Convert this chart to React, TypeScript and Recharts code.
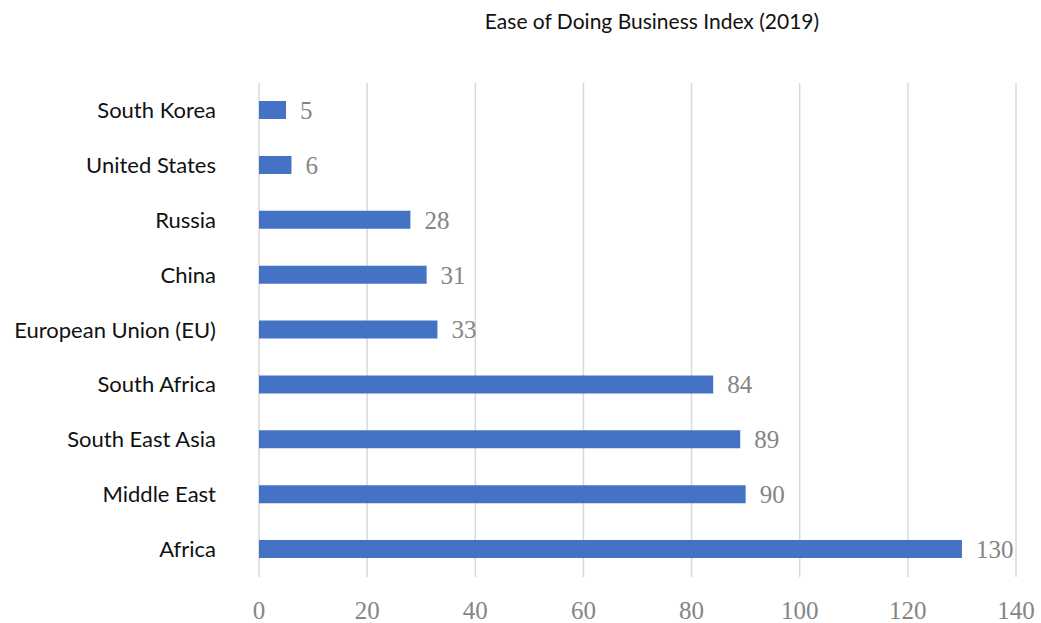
import { BarChart, Bar, XAxis, YAxis, CartesianGrid, LabelList } from 'recharts';

const regions = [
  'South Korea',
  'United States',
  'Russia',
  'China',
  'European Union (EU)',
  'South Africa',
  'South East Asia',
  'Middle East',
  'Africa',
];
const ranks = [5, 6, 28, 31, 33, 84, 89, 90, 130];
const xTicks = [0, 20, 40, 60, 80, 100, 120, 140];

const data = regions.map((region, i) => ({ region, rank: ranks[i] }));

const CategoryTick = (props: any) => {
  const { y, payload } = props;
  return (
    <text
      x={216}
      y={y - 1}
      textAnchor="end"
      dominantBaseline="central"
      fontFamily="Lato, sans-serif"
      fontSize={22}
      fill="#111"
    >
      {payload.value}
    </text>
  );
};

const ValueTick = (props: any) => {
  const { x, y, payload } = props;
  return (
    <text
      x={x}
      y={y + 25}
      textAnchor="middle"
      dominantBaseline="central"
      fontFamily="'Liberation Serif', serif"
      fontSize={25}
      fill="#858585"
    >
      {payload.value}
    </text>
  );
};

export default function App() {
  return (
    <div style={{ position: 'absolute', left: 0, top: 0, width: 1041, height: 623, background: '#fff' }}>
      <div
        style={{
          position: 'absolute',
          left: 0,
          top: 8,
          width: 1304,
          textAlign: 'center',
          fontFamily: 'Lato, sans-serif',
          fontSize: 21,
          color: '#111',
        }}
      >
        Ease of Doing Business Index (2019)
      </div>
      <BarChart
        width={1041}
        height={623}
        data={data}
        layout="vertical"
        margin={{ top: 83, right: 25, bottom: 0, left: 0 }}
      >
        <CartesianGrid horizontal={false} stroke="#d9d9d9" strokeWidth={1.5} />
        <XAxis
          type="number"
          domain={[0, 140]}
          ticks={xTicks}
          axisLine={false}
          tickLine={false}
          height={46}
          tick={<ValueTick />}
          interval={0}
        />
        <YAxis
          type="category"
          dataKey="region"
          width={259}
          axisLine={false}
          tickLine={false}
          tick={<CategoryTick />}
          interval={0}
        />
        <Bar dataKey="rank" fill="#4472c4" barSize={18} isAnimationActive={false}>
          <LabelList
            dataKey="rank"
            position="right"
            offset={14}
            fill="#858585"
            fontFamily="'Liberation Serif', serif"
            fontSize={25}
          />
        </Bar>
      </BarChart>
    </div>
  );
}
